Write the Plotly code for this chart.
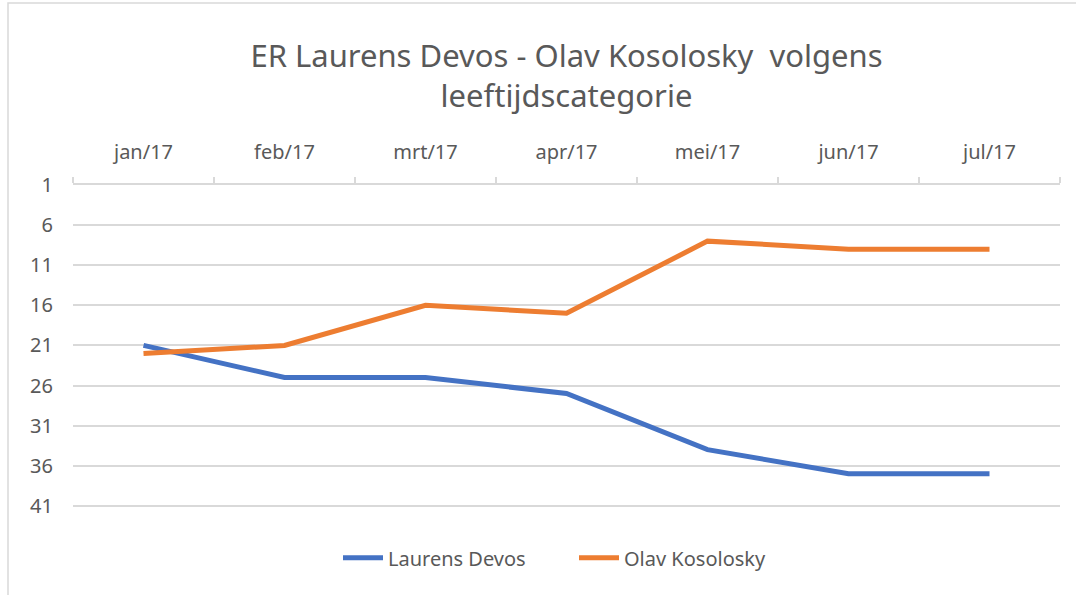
import plotly.graph_objects as go

months = ["jan/17", "feb/17", "mrt/17", "apr/17", "mei/17", "jun/17", "jul/17"]
laurens = [21, 25, 25, 27, 34, 37, 37]
olav = [22, 21, 16, 17, 8, 9, 9]
y_ticks = [1, 6, 11, 16, 21, 26, 31, 36, 41]

W, H = 1076, 595
# plot area in px; value 1 at y=185, value 41 at y=506 (8.025 px per unit)
L, R, T = 73, 1060, 185
Y_MIN, Y_MAX = 1, 41.4
PX_PER_UNIT = (506 - 185) / 40
B = T + (Y_MAX - Y_MIN) * PX_PER_UNIT

FONT = "Noto Sans"
GREY = "#595959"

fig = go.Figure()
fig.add_trace(go.Scatter(x=months, y=laurens, mode="lines", name="Laurens Devos",
                         line=dict(color="#4472C4", width=5)))
fig.add_trace(go.Scatter(x=months, y=olav, mode="lines", name="Olav Kosolosky",
                         line=dict(color="#ED7D31", width=5)))

def px_to_paper_x(px):
    return (px - L) / (R - L)

def px_to_paper_y(py):
    return (B - py) / (B - T)

fig.update_layout(
    width=W, height=H,
    margin=dict(l=L, r=W - R, t=T, b=H - B, pad=0),
    paper_bgcolor="white", plot_bgcolor="white",
    font=dict(family=FONT, color=GREY, size=20),
    title=dict(text="ER Laurens Devos - Olav Kosolosky  volgens<br>leeftijdscategorie",
               x=0.5, xanchor="center", xref="paper",
               y=1 - 67 / H, yanchor="middle",
               font=dict(size=31, color=GREY, family=FONT)),
    showlegend=True,
    legend=dict(orientation="h", x=px_to_paper_x(574), xanchor="center",
                y=px_to_paper_y(558), yanchor="middle",
                font=dict(size=20, color=GREY), itemwidth=40,
                entrywidth=181, traceorder="normal"),
    xaxis=dict(side="top", type="category", categoryorder="array", categoryarray=months,
               range=[-0.5, 6.5], showgrid=False,
               showline=True, linecolor="#d9d9d9", linewidth=2,
               ticks="outside", ticklen=6, tickcolor="#d9d9d9", tickwidth=1.5,
               tickson="boundaries", ticklabelstandoff=16,
               tickfont=dict(size=20, color=GREY), zeroline=False, fixedrange=True),
    yaxis=dict(range=[Y_MAX, Y_MIN], tickvals=y_ticks, showgrid=True, gridcolor="#d9d9d9",
               gridwidth=1.5, showline=False, zeroline=False, ticks="",
               ticklabelstandoff=19, tickfont=dict(size=20, color=GREY), fixedrange=True),
    shapes=[dict(type="rect", xref="paper", yref="paper",
                 x0=px_to_paper_x(8), x1=px_to_paper_x(1085),
                 y0=px_to_paper_y(605), y1=px_to_paper_y(3),
                 line=dict(color="#d9d9d9", width=1.5), fillcolor="rgba(0,0,0,0)",
                 layer="below")],
)

fig.write_html("out.html", config={"displayModeBar": False},
               post_script="document.body.style.margin='0';document.body.style.padding='0';")
